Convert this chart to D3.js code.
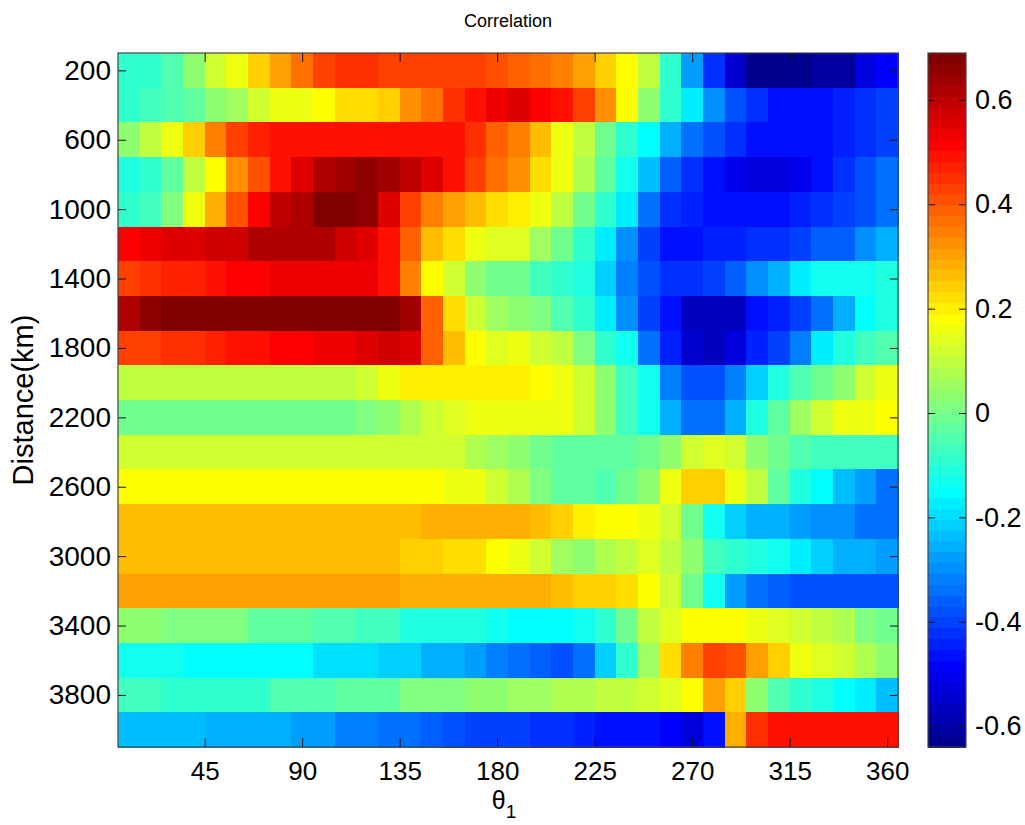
<!DOCTYPE html>
<html>
<head>
<meta charset="utf-8">
<script src="https://cdn.jsdelivr.net/npm/d3@7"></script>
<style>
  body { margin: 0; background: #fff; }
  svg { display: block; font-family: Arial, "Liberation Sans", sans-serif; }
</style>
</head>
<body>
<div id="app"></div>
<script>
// one row per distance, 36 angle bins (10..360 deg)
const row200 = [-0.09,-0.08,-0.04,0.04,0.11,0.16,0.25,0.30,0.37,0.42,0.45,0.45,0.44,0.42,0.42,0.42,0.42,0.41,0.38,0.37,0.35,0.30,0.25,0.19,0.09,-0.08,-0.28,-0.42,-0.54,-0.63,-0.63,-0.62,-0.61,-0.60,-0.52,-0.49];
const row400 = [-0.08,-0.06,-0.05,-0.03,0.04,0.05,0.11,0.15,0.16,0.19,0.22,0.23,0.25,0.32,0.37,0.45,0.50,0.54,0.55,0.52,0.49,0.42,0.32,0.19,0.04,-0.08,-0.18,-0.30,-0.37,-0.43,-0.46,-0.47,-0.47,-0.45,-0.43,-0.41];
const row600 = [0.04,0.09,0.16,0.25,0.34,0.42,0.47,0.49,0.49,0.49,0.49,0.49,0.50,0.50,0.50,0.50,0.45,0.39,0.34,0.27,0.17,0.09,-0.01,-0.09,-0.16,-0.26,-0.34,-0.38,-0.42,-0.46,-0.47,-0.47,-0.47,-0.44,-0.43,-0.40];
const row800 = [-0.12,-0.08,-0.03,0.09,0.19,0.32,0.40,0.50,0.56,0.61,0.64,0.66,0.64,0.59,0.55,0.49,0.42,0.37,0.32,0.23,0.15,0.07,-0.03,-0.14,-0.24,-0.36,-0.42,-0.47,-0.50,-0.52,-0.52,-0.50,-0.47,-0.43,-0.38,-0.34];
const row1000 = [-0.09,-0.06,0.02,0.15,0.29,0.40,0.52,0.59,0.62,0.67,0.67,0.65,0.55,0.44,0.34,0.30,0.27,0.23,0.21,0.15,0.09,-0.01,-0.09,-0.18,-0.34,-0.42,-0.44,-0.47,-0.47,-0.47,-0.47,-0.45,-0.43,-0.41,-0.37,-0.34];
const row1200 = [0.52,0.54,0.56,0.56,0.58,0.58,0.61,0.61,0.61,0.61,0.58,0.56,0.49,0.39,0.27,0.22,0.16,0.13,0.13,0.05,-0.01,-0.08,-0.18,-0.30,-0.40,-0.46,-0.47,-0.45,-0.44,-0.43,-0.42,-0.40,-0.36,-0.36,-0.30,-0.26];
const row1400 = [0.42,0.45,0.47,0.47,0.50,0.52,0.52,0.54,0.54,0.54,0.54,0.54,0.50,0.35,0.19,0.11,0.04,-0.01,0.00,-0.06,-0.08,-0.12,-0.21,-0.32,-0.38,-0.43,-0.43,-0.41,-0.35,-0.30,-0.26,-0.18,-0.14,-0.13,-0.13,-0.11];
const row1600 = [0.62,0.65,0.67,0.69,0.69,0.69,0.69,0.69,0.69,0.69,0.69,0.69,0.68,0.63,0.39,0.22,0.11,0.05,0.04,0.02,-0.04,-0.09,-0.18,-0.30,-0.40,-0.47,-0.56,-0.57,-0.56,-0.47,-0.45,-0.40,-0.34,-0.26,-0.16,-0.12];
const row1800 = [0.42,0.44,0.45,0.45,0.48,0.50,0.50,0.52,0.52,0.54,0.54,0.56,0.57,0.55,0.39,0.26,0.19,0.14,0.15,0.12,0.09,0.02,-0.08,-0.14,-0.34,-0.45,-0.54,-0.57,-0.52,-0.45,-0.40,-0.32,-0.18,-0.12,-0.06,-0.04];
const row2000 = [0.09,0.09,0.09,0.09,0.09,0.09,0.09,0.09,0.09,0.09,0.09,0.11,0.16,0.21,0.21,0.21,0.21,0.21,0.21,0.19,0.16,0.11,0.04,-0.06,-0.14,-0.32,-0.37,-0.37,-0.32,-0.21,-0.12,-0.04,-0.01,0.04,0.12,0.17];
const row2200 = [0.00,0.00,0.00,0.00,0.00,0.00,0.00,0.00,0.00,0.00,0.00,0.02,0.04,0.08,0.11,0.13,0.15,0.16,0.16,0.16,0.15,0.11,0.04,-0.07,-0.14,-0.26,-0.34,-0.34,-0.26,-0.11,-0.03,0.05,0.11,0.15,0.17,0.19];
const row2400 = [0.11,0.11,0.11,0.11,0.11,0.11,0.11,0.11,0.11,0.11,0.11,0.11,0.11,0.11,0.11,0.11,0.08,0.05,0.04,-0.01,-0.03,-0.03,-0.03,-0.03,-0.01,0.04,0.12,0.13,0.11,0.04,-0.01,-0.05,-0.07,-0.07,-0.07,-0.07];
const row2600 = [0.19,0.19,0.19,0.19,0.19,0.19,0.19,0.19,0.19,0.19,0.19,0.19,0.19,0.19,0.19,0.17,0.15,0.11,0.07,0.02,-0.03,-0.03,-0.05,-0.01,0.04,0.16,0.25,0.25,0.17,0.09,-0.03,-0.10,-0.16,-0.24,-0.28,-0.34];
const row2800 = [0.27,0.27,0.27,0.27,0.27,0.27,0.27,0.27,0.27,0.27,0.27,0.27,0.27,0.27,0.29,0.29,0.29,0.29,0.29,0.27,0.24,0.21,0.19,0.19,0.16,0.12,0.00,-0.13,-0.21,-0.26,-0.26,-0.28,-0.30,-0.30,-0.34,-0.34];
const row3000 = [0.27,0.27,0.27,0.27,0.27,0.27,0.27,0.27,0.27,0.27,0.27,0.27,0.27,0.25,0.25,0.23,0.23,0.19,0.15,0.11,0.05,0.04,0.07,0.09,0.13,0.09,0.04,-0.06,-0.09,-0.11,-0.14,-0.18,-0.21,-0.26,-0.26,-0.28];
const row3200 = [0.31,0.31,0.31,0.31,0.31,0.31,0.31,0.31,0.31,0.31,0.31,0.31,0.31,0.29,0.29,0.29,0.29,0.29,0.29,0.29,0.27,0.25,0.24,0.22,0.19,0.12,0.00,-0.13,-0.28,-0.34,-0.35,-0.37,-0.37,-0.37,-0.37,-0.37];
const row3400 = [0.04,0.04,0.01,0.01,0.01,0.01,-0.02,-0.02,-0.02,-0.05,-0.05,-0.07,-0.07,-0.11,-0.11,-0.11,-0.12,-0.14,-0.16,-0.16,-0.16,-0.14,-0.08,0.00,0.09,0.14,0.19,0.19,0.19,0.16,0.13,0.11,0.09,0.07,0.02,0.00];
const row3600 = [-0.14,-0.14,-0.14,-0.16,-0.16,-0.16,-0.16,-0.16,-0.16,-0.19,-0.19,-0.19,-0.22,-0.22,-0.25,-0.26,-0.27,-0.31,-0.34,-0.36,-0.38,-0.34,-0.21,-0.08,0.05,0.23,0.34,0.42,0.40,0.31,0.24,0.16,0.14,0.11,0.07,0.04];
const row3800 = [-0.07,-0.07,-0.08,-0.08,-0.08,-0.08,-0.08,-0.05,-0.05,-0.05,-0.02,-0.02,-0.02,0.02,0.02,0.02,0.04,0.04,0.05,0.05,0.07,0.07,0.09,0.09,0.12,0.14,0.19,0.31,0.24,0.04,-0.05,-0.09,-0.12,-0.16,-0.18,-0.24];
const row4000 = [-0.24,-0.24,-0.24,-0.24,-0.26,-0.26,-0.26,-0.26,-0.28,-0.28,-0.31,-0.31,-0.34,-0.34,-0.36,-0.38,-0.41,-0.41,-0.41,-0.42,-0.43,-0.45,-0.46,-0.47,-0.47,-0.49,-0.52,-0.46,0.29,0.45,0.50,0.50,0.50,0.50,0.50,0.50];

const rows = [row200, row400, row600, row800, row1000, row1200, row1400, row1600, row1800, row2000,
	row2200, row2400, row2600, row2800, row3000, row3200, row3400, row3600, row3800, row4000];
const distances = d3.range(200, 4001, 200);
const angles = d3.range(10, 361, 10);
const xTicks = [45, 90, 135, 180, 225, 270, 315, 360];
const yTicks = [200, 600, 1000, 1400, 1800, 2200, 2600, 3000, 3400, 3800];
const cTicks = [-0.6, -0.4, -0.2, 0, 0.2, 0.4, 0.6];
const cLimits = [-0.64, 0.69];

// MATLAB jet(64)
const clamp = (v) => Math.max(0, Math.min(1, v));
const jet = d3.range(1, 65).map((k) => d3.rgb(
	255 * clamp(Math.min((k - 24) / 16, (72 - k) / 16)),
	255 * clamp(Math.min((k - 8) / 16, (56 - k) / 16)),
	255 * clamp(Math.min((k + 8) / 16, (40 - k) / 16))
).formatHex());

const width = 1025;
const height = 825;
const plotLeft = 118, plotRight = 898, plotTop = 53, plotBottom = 747;

const svg = d3.select('#app').append('svg')
	.attr('width', width)
	.attr('height', height);

const x = d3.scaleLinear().domain([5, 365]).range([plotLeft, plotRight]);
const y = d3.scaleLinear().domain([100, 4100]).range([plotTop, plotBottom]);
const color = d3.scaleQuantize().domain(cLimits).range(jet);

const cells = [];
rows.forEach((row, i) => {
	row.forEach((v, j) => {
		cells.push({d: distances[i], a: angles[j], v});
	});
});

svg.append('g')
	.attr('shape-rendering', 'crispEdges')
	.selectAll('rect')
	.data(cells)
	.enter()
	.append('rect')
	.attr('x', (c) => x(c.a - 5))
	.attr('y', (c) => y(c.d - 100))
	.attr('width', (c) => x(c.a + 5) - x(c.a - 5) + 0.5)
	.attr('height', (c) => y(c.d + 100) - y(c.d - 100) + 0.5)
	.attr('fill', (c) => color(c.v));

const styleAxis = (g, fontSize) => {
	g.select('.domain').remove();
	g.selectAll('.tick line').attr('stroke', '#111');
	g.selectAll('.tick text').attr('fill', '#000').attr('font-size', fontSize);
};

svg.append('g')
	.attr('transform', `translate(0,${plotBottom})`)
	.call(d3.axisBottom(x).tickValues(xTicks).tickSizeInner(-9).tickSizeOuter(0).tickPadding(15))
	.call((g) => styleAxis(g, 26));

svg.append('g')
	.attr('transform', `translate(0,${plotTop})`)
	.call(d3.axisTop(x).tickValues(xTicks).tickSizeInner(-9).tickSizeOuter(0).tickFormat(''))
	.call((g) => styleAxis(g, 26));

svg.append('g')
	.attr('transform', `translate(${plotLeft},0)`)
	.call(d3.axisLeft(y).tickValues(yTicks).tickSizeInner(-8).tickSizeOuter(0).tickPadding(7)
		.tickFormat(d3.format('d')))
	.call((g) => styleAxis(g, 28));

svg.append('g')
	.attr('transform', `translate(${plotRight},0)`)
	.call(d3.axisRight(y).tickValues(yTicks).tickSizeInner(-8).tickSizeOuter(0).tickFormat(''))
	.call((g) => styleAxis(g, 28));

svg.append('rect')
	.attr('x', plotLeft)
	.attr('y', plotTop)
	.attr('width', plotRight - plotLeft)
	.attr('height', plotBottom - plotTop)
	.attr('fill', 'none')
	.attr('stroke', '#444')
	.attr('stroke-width', 1.2);

// colorbar
const cbLeft = 928, cbRight = 966;
const cy = d3.scaleLinear().domain(cLimits).range([plotBottom, plotTop]);
const step = (cLimits[1] - cLimits[0]) / jet.length;

svg.append('g')
	.attr('shape-rendering', 'crispEdges')
	.selectAll('rect')
	.data(jet)
	.enter()
	.append('rect')
	.attr('x', cbLeft)
	.attr('width', cbRight - cbLeft)
	.attr('y', (c, i) => cy(cLimits[0] + (i + 1) * step))
	.attr('height', (c, i) => cy(cLimits[0] + i * step) - cy(cLimits[0] + (i + 1) * step) + 0.5)
	.attr('fill', (c) => c);

svg.append('g')
	.attr('transform', `translate(${cbRight},0)`)
	.call(d3.axisRight(cy).tickValues(cTicks).tickSizeInner(-7).tickSizeOuter(0).tickPadding(9)
		.tickFormat((d) => d === 0 ? '0' : d.toFixed(1)))
	.call((g) => styleAxis(g, 27));

svg.append('g')
	.attr('transform', `translate(${cbLeft},0)`)
	.call(d3.axisLeft(cy).tickValues(cTicks).tickSizeInner(-7).tickSizeOuter(0).tickFormat(''))
	.call((g) => styleAxis(g, 27));

svg.append('rect')
	.attr('x', cbLeft)
	.attr('y', plotTop)
	.attr('width', cbRight - cbLeft)
	.attr('height', plotBottom - plotTop)
	.attr('fill', 'none')
	.attr('stroke', '#444')
	.attr('stroke-width', 1.2);

// labels
svg.append('text')
	.attr('x', (plotLeft + plotRight) / 2)
	.attr('y', 27)
	.attr('text-anchor', 'middle')
	.attr('font-size', 18)
	.text('Correlation');

svg.append('text')
	.attr('transform', `translate(33,${(plotTop + plotBottom) / 2}) rotate(-90)`)
	.attr('text-anchor', 'middle')
	.attr('font-size', 29)
	.text('Distance(km)');

const xLabel = svg.append('text')
	.attr('x', 504)
	.attr('y', 809)
	.attr('text-anchor', 'middle')
	.attr('font-size', 25);
xLabel.append('tspan').text('θ');
xLabel.append('tspan').attr('font-size', 19).attr('dy', 9).text('1');
</script>
</body>
</html>
